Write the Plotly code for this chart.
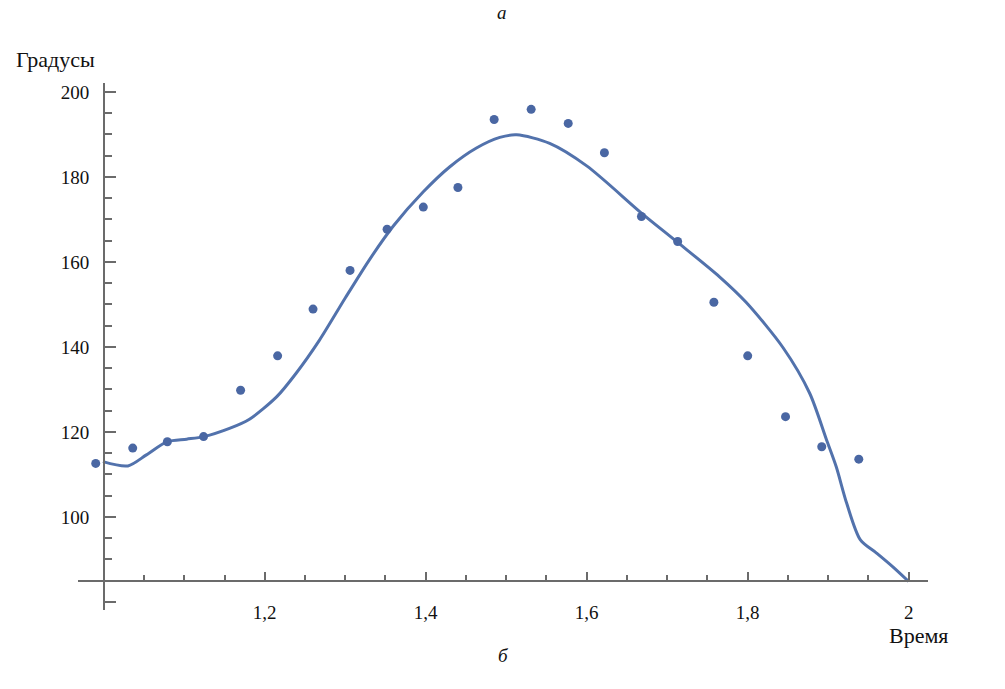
import plotly.graph_objects as go

# measured data points (time, degrees)
t_pts = [0.990, 1.036, 1.079, 1.124, 1.170, 1.216, 1.260, 1.306, 1.352, 1.397, 1.440,
         1.485, 1.531, 1.577, 1.622, 1.668, 1.713, 1.758, 1.800, 1.847, 1.892, 1.938]
deg_pts = [112.6, 116.2, 117.7, 118.9, 129.8, 137.9, 148.9, 158.0, 167.7, 172.9, 177.5,
           193.5, 195.9, 192.6, 185.7, 170.7, 164.8, 150.5, 137.9, 123.6, 116.5, 113.6]

# fitted curve
t_fit = [0.999, 1.030, 1.053, 1.079, 1.103, 1.124, 1.157, 1.181, 1.215, 1.239, 1.268,
         1.300, 1.330, 1.360, 1.397, 1.430, 1.463, 1.492, 1.513, 1.554, 1.600, 1.668, 1.713,
         1.765, 1.798, 1.844, 1.877, 1.898, 1.910, 1.923, 1.940, 1.960, 1.980, 2.000]
deg_fit = [113.0, 112.0, 114.6, 117.7, 118.3, 118.9, 120.9, 123.0, 128.3, 133.8, 141.6,
           151.5, 160.5, 168.5, 176.5, 182.4, 186.8, 189.3, 189.9, 187.9, 182.6, 171.5, 164.6,
           156.5, 150.5, 139.8, 129.1, 118.1, 111.8, 103.2, 94.6, 91.5, 88.3, 84.8]

x_tickvals = [1.2, 1.4, 1.6, 1.8, 2.0]
x_ticktext = ["1,2", "1,4", "1,6", "1,8", "2"]
y_tickvals = [80, 100, 120, 140, 160, 180, 200]
y_ticktext = ["", "100", "120", "140", "160", "180", "200"]

blue = "#5272ac"
axis_col = "#6b6b6b"
font_family = "'Liberation Serif', 'DejaVu Serif', serif"

fig = go.Figure()
fig.add_trace(go.Scatter(x=t_fit, y=deg_fit, mode="lines",
                         line=dict(color=blue, width=3, shape="spline", smoothing=0.8),
                         showlegend=False, hoverinfo="skip"))
fig.add_trace(go.Scatter(x=t_pts, y=deg_pts, mode="markers",
                         marker=dict(color="#4a67a3", size=9),
                         showlegend=False))

ann_font = dict(size=22, family=font_family, color="#111")
lbl_font = dict(size=19, family=font_family, color="#111")

fig.update_layout(
    width=1005, height=689,
    margin=dict(l=78, r=77, t=83, b=79),
    plot_bgcolor="white", paper_bgcolor="white",
    font=dict(family=font_family, size=19, color="#111"),
    xaxis=dict(range=[0.968, 2.024], showgrid=False, zeroline=False,
               showline=True, linecolor=axis_col, linewidth=2,
               anchor="free", position=0.055,
               tickvals=x_tickvals, ticktext=x_ticktext,
               ticks="inside", ticklen=8, tickwidth=2, tickcolor=axis_col,
               ticklabelstandoff=14,
               tickfont=lbl_font,
               minor=dict(dtick=0.05, tick0=1.0, ticks="inside", ticklen=5,
                          tickwidth=2, tickcolor=axis_col, showgrid=False)),
    yaxis=dict(range=[78.1, 202.1], showgrid=False, zeroline=False,
               showline=True, linecolor=axis_col, linewidth=2,
               anchor="free", position=0.0306,
               tickvals=y_tickvals, ticktext=y_ticktext,
               ticks="inside", ticklen=11, tickwidth=2, tickcolor=axis_col,
               ticklabelstandoff=10,
               tickfont=lbl_font,
               minor=dict(dtick=5, tick0=80, ticks="inside", ticklen=7,
                          tickwidth=2, tickcolor=axis_col, showgrid=False)),
    annotations=[
        dict(text="Градусы", x=-0.027, y=1.044, xref="paper", yref="paper",
             xanchor="center", yanchor="middle", showarrow=False, font=ann_font),
        dict(text="Время", x=0.989, y=-0.048, xref="paper", yref="paper",
             xanchor="center", yanchor="middle", showarrow=False, font=ann_font),
        dict(text="<i>а</i>", x=0.499, y=1.157, xref="paper", yref="paper",
             xanchor="center", yanchor="top", showarrow=False, font=lbl_font),
        dict(text="<i>б</i>", x=0.500, y=-0.086, xref="paper", yref="paper",
             xanchor="center", yanchor="middle", showarrow=False, font=lbl_font),
    ],
)

fig.write_html("out.html",
               config={"displayModeBar": False},
               post_script="document.body.style.margin='0';document.body.style.overflow='hidden';")
